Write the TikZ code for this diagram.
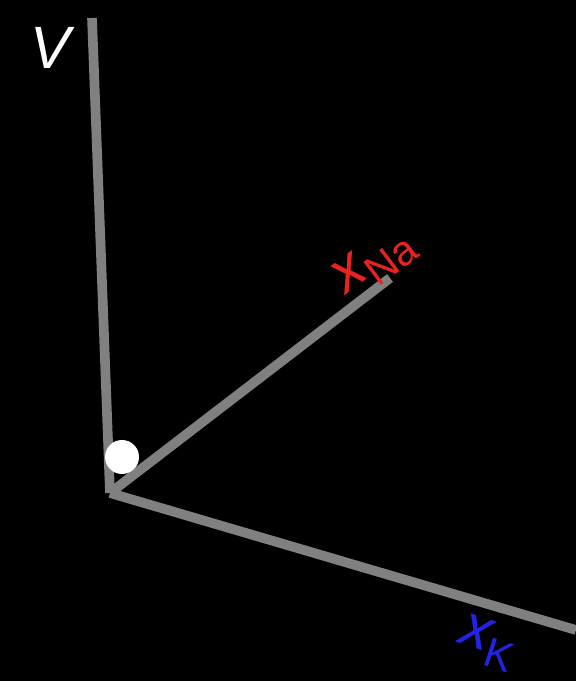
\documentclass[tikz,border=0pt]{standalone}
\usepackage{fontspec}
\setmainfont{Liberation Sans}
\usepackage{xcolor}
\usetikzlibrary{positioning}

\definecolor{axisgrey}{RGB}{128,128,128}
\definecolor{nared}{RGB}{235,35,30}
\definecolor{kblue}{RGB}{35,35,230}

\begin{document}
\begin{tikzpicture}[axis/.style={line width=5.5pt, axisgrey},
  lbl/.style={font=\fontsize{34}{38}\selectfont\itshape, inner sep=0pt}]
\fill [black] (0,0) rectangle (11.52,13.62);
\useasboundingbox (0,0) rectangle (11.52,13.62);

% axes
\coordinate (O) at (2.2,3.76);
\coordinate (vtop) at (1.84,13.26);
\coordinate (naend) at (7.8,8.06);
\coordinate (kend) at (11.52,1.02);

\draw [axis] (O) -- (vtop);
\draw [axis] (O) -- (naend);
\draw [axis] (O) -- (kend);

% state
\node [circle, fill=white, minimum size=0.68cm, inner sep=0pt] (ball) at (2.44,4.48) {};

% labels
\node [lbl, white] (V) at (1.0,12.66) {V};
\node [lbl, nared, rotate=37] (xNa) at (7.5,8.38) {x\textsubscript{\upshape Na}};
\node [lbl, kblue, rotate=-18] (xK) at (9.76,0.76) {x\textsubscript{\upshape K}};

\end{tikzpicture}
\end{document}
